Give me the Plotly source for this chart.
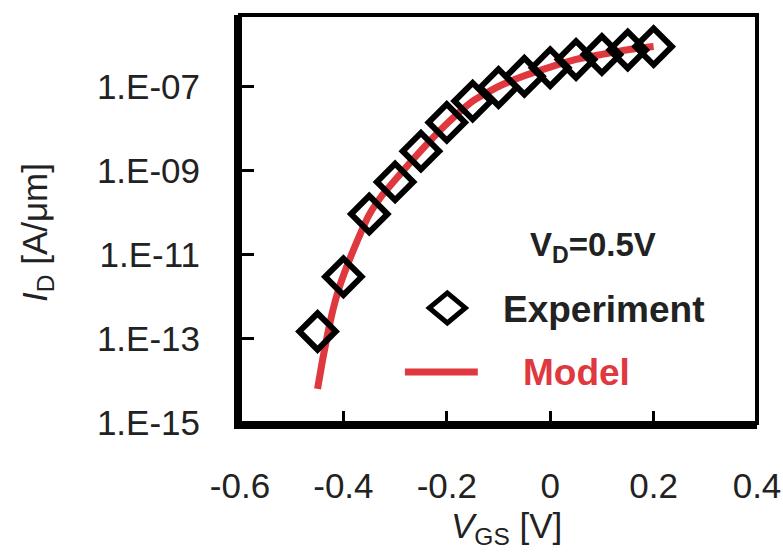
import plotly.graph_objects as go

# Measured drain current vs gate voltage (V_D = 0.5 V)
vgs_exp = [-0.45, -0.40, -0.35, -0.30, -0.25, -0.20, -0.15, -0.10, -0.05, 0.00, 0.05, 0.10, 0.15, 0.20]
id_exp = [1.5e-13, 3.0e-12, 9.3e-11, 5.4e-10, 2.9e-09, 1.4e-08, 4.5e-08, 9.5e-08,
          1.75e-07, 2.8e-07, 4.4e-07, 5.75e-07, 7.4e-07, 8.9e-07]

# Compact model curve
vgs_model = [-0.45, -0.44, -0.43, -0.42, -0.41, -0.40, -0.375, -0.35, -0.325, -0.30,
             -0.25, -0.20, -0.15, -0.10, -0.05, 0.00, 0.05, 0.10, 0.15, 0.20]
id_model = [6.5e-15, 3.3e-14, 1.4e-13, 5.0e-13, 1.4e-12, 3.2e-12, 1.9e-11, 9.0e-11,
            2.6e-10, 6.0e-10, 3.0e-09, 1.3e-08, 4.5e-08, 1.0e-07, 1.8e-07, 2.9e-07,
            4.4e-07, 5.8e-07, 7.5e-07, 8.9e-07]

x_ticks = [-0.6, -0.4, -0.2, 0, 0.2, 0.4]
x_tick_text = ["-0.6", "-0.4", "-0.2", "0", "0.2", "0.4"]
y_ticks = [1e-15, 1e-13, 1e-11, 1e-9, 1e-7]
y_tick_text = ["1.E-15", "1.E-13", "1.E-11", "1.E-09", "1.E-07"]

RED = "#e0383f"
INK = "#222222"
FONT = "Liberation Sans, Arial, sans-serif"

fig = go.Figure()
fig.add_trace(go.Scatter(
    x=vgs_model, y=id_model, mode="lines", name="Model",
    line=dict(color=RED, width=7, shape="spline", smoothing=0.5),
    showlegend=False,
))
fig.add_trace(go.Scatter(
    x=vgs_exp, y=id_exp, mode="markers", name="Experiment",
    marker=dict(symbol="diamond-open", size=28, color="black",
                line=dict(color="black", width=6)),
    showlegend=False,
))

fig.update_xaxes(
    range=[-0.6, 0.4], tickvals=x_ticks, ticktext=x_tick_text,
    showgrid=False, zeroline=False, automargin=False,
    showline=True, linecolor="black", linewidth=6,
    ticks="inside", ticklen=12, tickwidth=3, tickcolor="black",
    ticklabelstandoff=27,
    tickfont=dict(family=FONT, size=35, color=INK),
)
fig.update_yaxes(
    type="log", range=[-15, -5.3], tickvals=y_ticks, ticktext=y_tick_text,
    showgrid=False, zeroline=False, automargin=False,
    showline=True, linecolor="black", linewidth=6,
    ticks="inside", ticklen=14, tickwidth=3, tickcolor="black",
    ticklabelstandoff=27,
    tickfont=dict(family=FONT, size=35, color=INK),
)

# axis titles
fig.add_annotation(xref="paper", yref="paper", x=(506 - 240) / 517, y=(423 - 528) / 408,
                   text="<i>V</i><sub>GS</sub> [V]", showarrow=False,
                   xanchor="center", yanchor="middle",
                   font=dict(family=FONT, size=35, color=INK))
fig.add_annotation(xref="paper", yref="paper", x=(37 - 240) / 517, y=(423 - 233) / 408,
                   text="<i>I</i><sub>D</sub> [A/μm]", showarrow=False, textangle=-90,
                   xanchor="center", yanchor="middle",
                   font=dict(family=FONT, size=35, color=INK))

# frame on the top and right sides
fig.add_shape(type="rect", xref="paper", yref="paper", x0=0, x1=1, y0=0, y1=1,
              line=dict(color="black", width=4), layer="above")

# legend key: open diamond and red line
fig.add_shape(type="path", xref="paper", yref="paper",
              xsizemode="pixel", ysizemode="pixel", xanchor=0.401, yanchor=0.282,
              path="M -18 0 L 0 15 L 18 0 L 0 -15 Z",
              line=dict(color="black", width=5), fillcolor="white")
fig.add_shape(type="line", xref="paper", yref="paper",
              x0=0.319, x1=0.460, y0=0.125, y1=0.125,
              line=dict(color=RED, width=7))

fig.add_annotation(xref="paper", yref="paper", x=0.683, y=0.431,
                   text="<b>V<sub>D</sub>=0.5V</b>", showarrow=False,
                   xanchor="center", yanchor="middle",
                   font=dict(family=FONT, size=33, color=INK))
fig.add_annotation(xref="paper", yref="paper", x=0.505, y=0.277,
                   text="<b>Experiment</b>", showarrow=False,
                   xanchor="left", yanchor="middle",
                   font=dict(family=FONT, size=37, color=INK))
fig.add_annotation(xref="paper", yref="paper", x=0.543, y=0.125,
                   text="<b>Model</b>", showarrow=False,
                   xanchor="left", yanchor="middle",
                   font=dict(family=FONT, size=37, color=RED))

fig.update_layout(
    width=783, height=554,
    margin=dict(l=240, r=26, t=15, b=131),
    paper_bgcolor="white", plot_bgcolor="white",
    showlegend=False,
)

fig.write_html("out.html")
